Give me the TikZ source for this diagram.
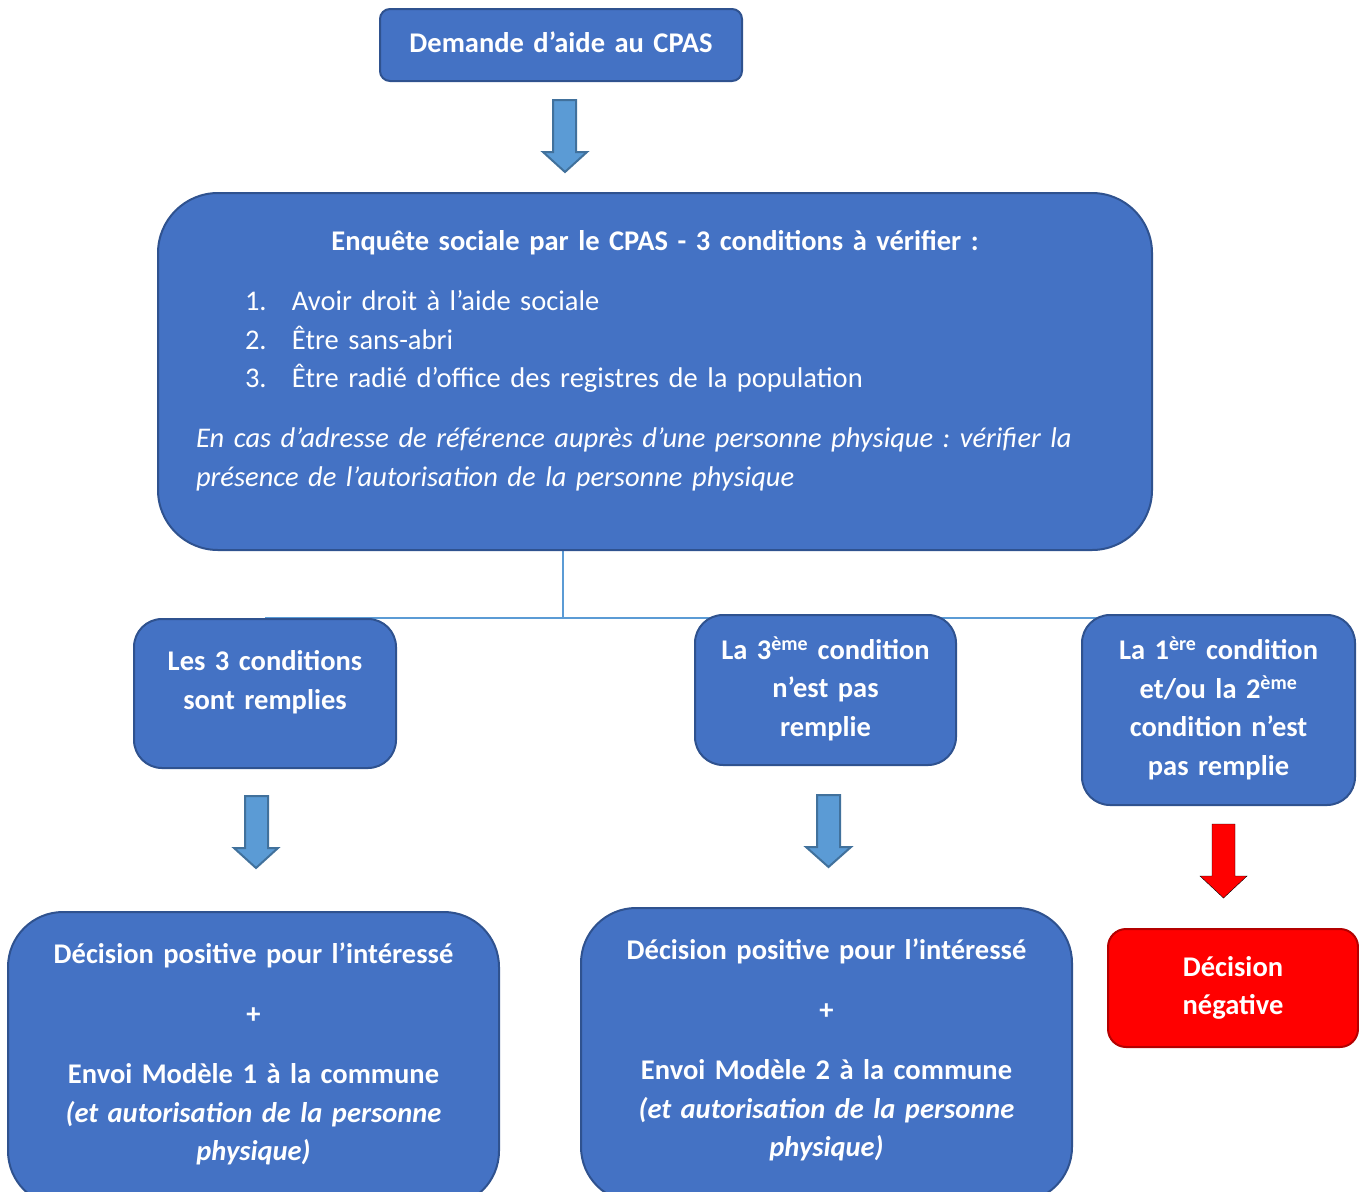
\documentclass[tikz,border=0pt]{standalone}
\usepackage{fontspec}
\setmainfont{Carlito}
\frenchspacing
\usetikzlibrary{backgrounds}
\definecolor{boxblue}{HTML}{4472C4}
\definecolor{boxedge}{HTML}{2F528F}
\definecolor{arrowblue}{HTML}{5B9BD5}
\definecolor{arrowedge}{HTML}{41719C}
\definecolor{negred}{HTML}{FF0000}
\definecolor{negedge}{HTML}{B40000}
\begin{document}
\begin{tikzpicture}[x=1pt,y=-1pt,
  bluebox/.style={draw=boxedge,fill=boxblue,line width=2,text=white,align=center,
    font=\fontsize{28.5}{38.5}\selectfont\bfseries,inner xsep=10,inner ysep=0},
  redbox/.style={bluebox,draw=negedge,fill=negred},
  bluearrow/.style={draw=arrowedge,fill=arrowblue,line width=2},
  redarrow/.style={fill=negred},
  treeline/.style={draw=arrowblue,line width=1.5}]
\useasboundingbox (0,0) rectangle (1359,1191);
\clip (0,0) rectangle (1359,1191);
\node[bluebox,rounded corners=10,minimum width=362,minimum height=72,text width=342] (demande) at (561,45) {\strut Demande d’aide au CPAS};
\node[bluebox,rounded corners=60,minimum height=357,inner xsep=38,text width=918,align=left] (enquete) at (655,371.5) {%
\makebox[\linewidth][c]{\strut Enquête sociale par le CPAS - 3 conditions à vérifier :}\\[21.5pt]
\mdseries\hspace*{49pt}\makebox[47pt][l]{1.}Avoir droit à l’aide sociale\\
\hspace*{49pt}\makebox[47pt][l]{2.}Être sans-abri\\
\hspace*{49pt}\makebox[47pt][l]{3.}Être radié d’office des registres de la population\\[21.5pt]
\itshape En cas d’adresse de référence auprès d’une personne physique : vérifier la\\
présence de l’autorisation de la personne physique\rule[-32.6pt]{0pt}{0pt}};
\node[bluebox,rounded corners=28,minimum height=149,text width=242] (remplies) at (265,693.5) {\strut Les 3 conditions\\ sont remplies\rule[-33.5pt]{0pt}{0pt}};
\node[bluebox,rounded corners=28,minimum height=150,text width=241] (troisieme) at (825.5,690) {\strut La 3\textsuperscript{ème} condition\\ n’est pas\\ remplie\strut};
\node[bluebox,rounded corners=28,minimum height=190,text width=253] (premiere) at (1218.5,710) {\strut La 1\textsuperscript{ère} condition\\ et/ou la 2\textsuperscript{ème}\\ condition n’est\\ pas remplie\strut};
\node[bluebox,rounded corners=55,anchor=north,minimum height=294,text width=471] (modele1) at (253.5,911) {\strut Décision positive pour l’intéressé\\[21.5pt] +\\[21.5pt] Envoi Modèle 1 à la commune\\ \itshape (et autorisation de la personne\\ physique)\rule[-20.5pt]{0pt}{0pt}};
\node[bluebox,rounded corners=55,anchor=north,minimum height=294,text width=471] (modele2) at (826.5,907) {\strut Décision positive pour l’intéressé\\[21.5pt] +\\[21.5pt] Envoi Modèle 2 à la commune\\ \itshape (et autorisation de la personne\\ physique)\rule[-20.5pt]{0pt}{0pt}};
\node[redbox,rounded corners=18,minimum width=250,minimum height=118,text width=230] (negative) at (1233,988) {\strut Décision\\ négative\strut};
\coordinate (split) at (563,618);
\begin{scope}[on background layer]
\draw[treeline] (split |- enquete.south) -- (split);
\draw[treeline] (split) -| (remplies.north);
\draw[treeline] (split) -| (troisieme.north);
\draw[treeline] (split) -| (premiere.north);
\end{scope}
\draw[bluearrow] (553,100) -- (576,100) -- (576,152) -- (587,152) -- (565,172) -- (543,152) -- (553,152) -- cycle;
\draw[bluearrow] (245,796) -- (268,796) -- (268,848) -- (278,848) -- (256,868) -- (234,848) -- (245,848) -- cycle;
\draw[bluearrow] (817,795) -- (840,795) -- (840,847) -- (851,847) -- (828.5,867) -- (806,847) -- (817,847) -- cycle;
\draw[redarrow] (1212,824) -- (1235,824) -- (1235,876) -- (1247,876) -- (1223.5,898) -- (1200,876) -- (1212,876) -- cycle;
\end{tikzpicture}
\end{document}
